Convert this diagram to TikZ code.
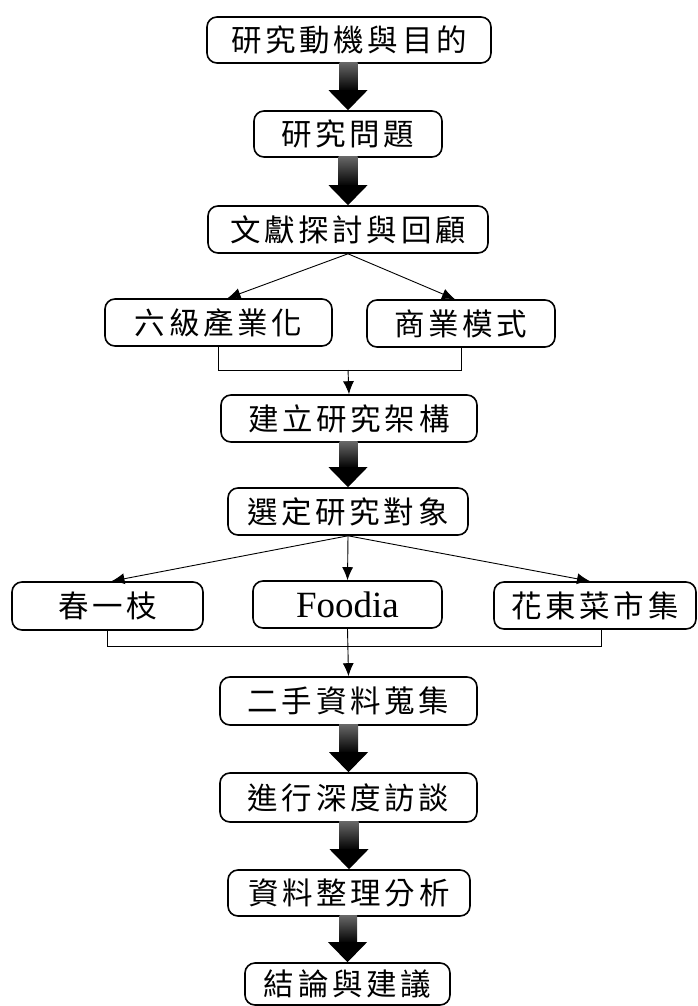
\documentclass[tikz,border=0pt]{standalone}
\usepackage{fontspec}
\setmainfont[LetterSpace=12]{Noto Sans CJK TC}
\newfontfamily\latinserif{Liberation Serif}
\usetikzlibrary{arrows.meta,calc}
\newcommand{\fatarrow}[2]{%
  \shade[top color=black!60, bottom color=black]
    ($(#1.south)+(-9.5,-1)$) rectangle ($(#2.north)+(9.5,-19)$);
  \fill[black] ($(#2.north)+(-19.5,-20)$) -- ($(#2.north)+(19.5,-20)$) -- (#2.north) -- cycle;}
\begin{document}
\begin{tikzpicture}[x=1pt,y=-1pt,
  box/.style={draw, line width=1.6pt, rounded corners=10pt, inner sep=0pt, fill=white,
    minimum height=47pt, font=\fontsize{30.5}{36}\selectfont},
  thinarrow/.style={line width=0.9pt, -{Latex[length=13pt,width=11pt]}},
  thinline/.style={line width=0.9pt}]
\useasboundingbox (0,0) rectangle (697,1006);
\node[box, minimum width=284pt, minimum height=46pt] (n1) at (349,40) {研究動機與目的};
\node[box, minimum width=188pt, minimum height=46pt] (n2) at (348,134) {研究問題};
\node[box, minimum width=280pt] (n3) at (348,229.5) {文獻探討與回顧};
\node[box, minimum width=227pt] (n4a) at (218.5,322.5) {六級產業化};
\node[box, minimum width=188pt] (n4b) at (461,323.5) {商業模式};
\node[box, minimum width=256pt] (n5) at (349,418.5) {建立研究架構};
\node[box, minimum width=240pt] (n6) at (348,511.5) {選定研究對象};
\node[box, minimum width=191pt, minimum height=48pt] (n7a) at (107.5,606) {春一枝};
\node[box, minimum width=189pt] (n7b) at (347.5,604.5) {\latinserif\fontsize{37}{40}\selectfont Foodia};
\node[box, minimum width=202pt] (n7c) at (595,605.5) {花東菜市集};
\node[box, minimum width=257pt, minimum height=48pt] (n8) at (348.5,701) {二手資料蒐集};
\node[box, minimum width=257pt, minimum height=49pt] (n9) at (348.5,797.5) {進行深度訪談};
\node[box, minimum width=242pt, minimum height=46pt] (n10) at (349,893) {資料整理分析};
\node[box, minimum width=205pt, minimum height=42pt] (n11) at (347.5,984) {結論與建議};
% fat arrows
\fatarrow{n1}{n2}
\fatarrow{n2}{n3}
\fatarrow{n5}{n6}
\fatarrow{n8}{n9}
\fatarrow{n9}{n10}
\fatarrow{n10}{n11}
% branches
\draw[thinarrow] (n3.south) -- ($(n4a.north)+(9,0)$);
\draw[thinarrow] (n3.south) -- ($(n4b.north)+(-6,0)$);
\coordinate (j1) at (348,370);
\draw[thinline] (n4a.south) -- (n4a.south |- j1) -- (n4b.south |- j1) -- (n4b.south);
\draw[thinarrow] (j1) -- (n5.north);
\draw[thinarrow] (n6.south) -- ($(n7a.north)+(4,0)$);
\draw[thinarrow] (n6.south) -- (n7b.north);
\draw[thinarrow] (n6.south) -- ($(n7c.north)+(-5,0)$);
\coordinate (j2) at (348,646);
\draw[thinline] (n7a.south) -- (n7a.south |- j2) -- ($(n7c.south |- j2)+(6,0)$) -- ($(n7c.south)+(6,0)$);
\draw[thinarrow] (n7b.south) -- (n8.north);
\end{tikzpicture}
\end{document}
